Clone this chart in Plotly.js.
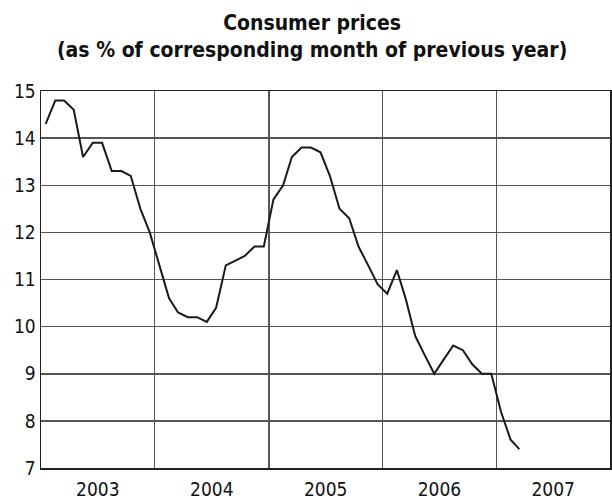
<!DOCTYPE html>
<html>
<head>
<meta charset="utf-8">
<script src="https://cdn.plot.ly/plotly-3.0.1.min.js"></script>
<style>
  body { margin: 0; background: #fff; }
  #chart { width: 612px; height: 500px; }
  /* reference uses a narrow face */
  #chart text { font-stretch: condensed !important; }
</style>
</head>
<body>
<div id="chart"></div>
<script>
// months shown, Jan 2003 .. Mar 2007 (mid-month points)
var years = [2003, 2004, 2005, 2006, 2007];
var monthsPerYear = [12, 12, 12, 12, 3];

// consumer prices, % of same month of previous year
var cpi2003 = [14.3, 14.8, 14.8, 14.6, 13.6, 13.9, 13.9, 13.3, 13.3, 13.2, 12.5, 12.0];
var cpi2004 = [11.3, 10.6, 10.3, 10.2, 10.2, 10.1, 10.4, 11.3, 11.4, 11.5, 11.7, 11.7];
var cpi2005 = [12.7, 13.0, 13.6, 13.8, 13.8, 13.7, 13.2, 12.5, 12.3, 11.7, 11.3, 10.9];
var cpi2006 = [10.7, 11.2, 10.6, 9.8, 9.4, 9.0, 9.3, 9.6, 9.5, 9.2, 9.0, 9.0];
var cpi2007 = [8.2, 7.6, 7.4];

var yTicks = [7, 8, 9, 10, 11, 12, 13, 14, 15];

var cpi = cpi2003.concat(cpi2004, cpi2005, cpi2006, cpi2007);
var dates = [];
years.forEach(function (yr, i) {
    for (var m = 1; m <= monthsPerYear[i]; m++) {
        dates.push(yr + '-' + (m < 10 ? '0' + m : m) + '-16');
    }
});

var FONT = '"DejaVu Sans", sans-serif';

var trace = {
    x: dates,
    y: cpi,
    type: 'scatter',
    mode: 'lines',
    line: { color: '#1a1a1a', width: 2 },
    hoverinfo: 'none'
};

var layout = {
    width: 612,
    height: 500,
    margin: { l: 41, r: 2, t: 91, b: 32 },
    paper_bgcolor: '#fff',
    plot_bgcolor: '#fff',
    showlegend: false,
    title: {
        text: 'Consumer prices<br>(as % of corresponding month of previous year)',
        font: { family: FONT, size: 21, color: '#111', weight: 'bold' },
        x: 0.51,
        xanchor: 'center',
        yref: 'container',
        y: 0.94,
        yanchor: 'top'
    },
    xaxis: {
        type: 'date',
        range: ['2003-01-01', '2008-01-01'],
        tick0: '2003-01-01',
        dtick: 'M12',
        tickformat: '%Y',
        ticklabelmode: 'period',
        ticklabelstandoff: 4,
        ticks: '',
        showgrid: true,
        gridcolor: '#555',
        gridwidth: 1.5,
        showline: true,
        linecolor: '#222',
        linewidth: 1.5,
        mirror: true,
        zeroline: false,
        tickfont: { family: FONT, size: 19, color: '#111' }
    },
    yaxis: {
        range: [7, 15],
        tickvals: yTicks,
        ticks: '',
        showgrid: true,
        gridcolor: '#555',
        gridwidth: 1.5,
        showline: true,
        linecolor: '#222',
        linewidth: 1.5,
        mirror: true,
        zeroline: false,
        tickfont: { family: FONT, size: 19, color: '#111' }
    }
};

Plotly.newPlot('chart', [trace], layout, { displayModeBar: false, staticPlot: true });
</script>
</body>
</html>
